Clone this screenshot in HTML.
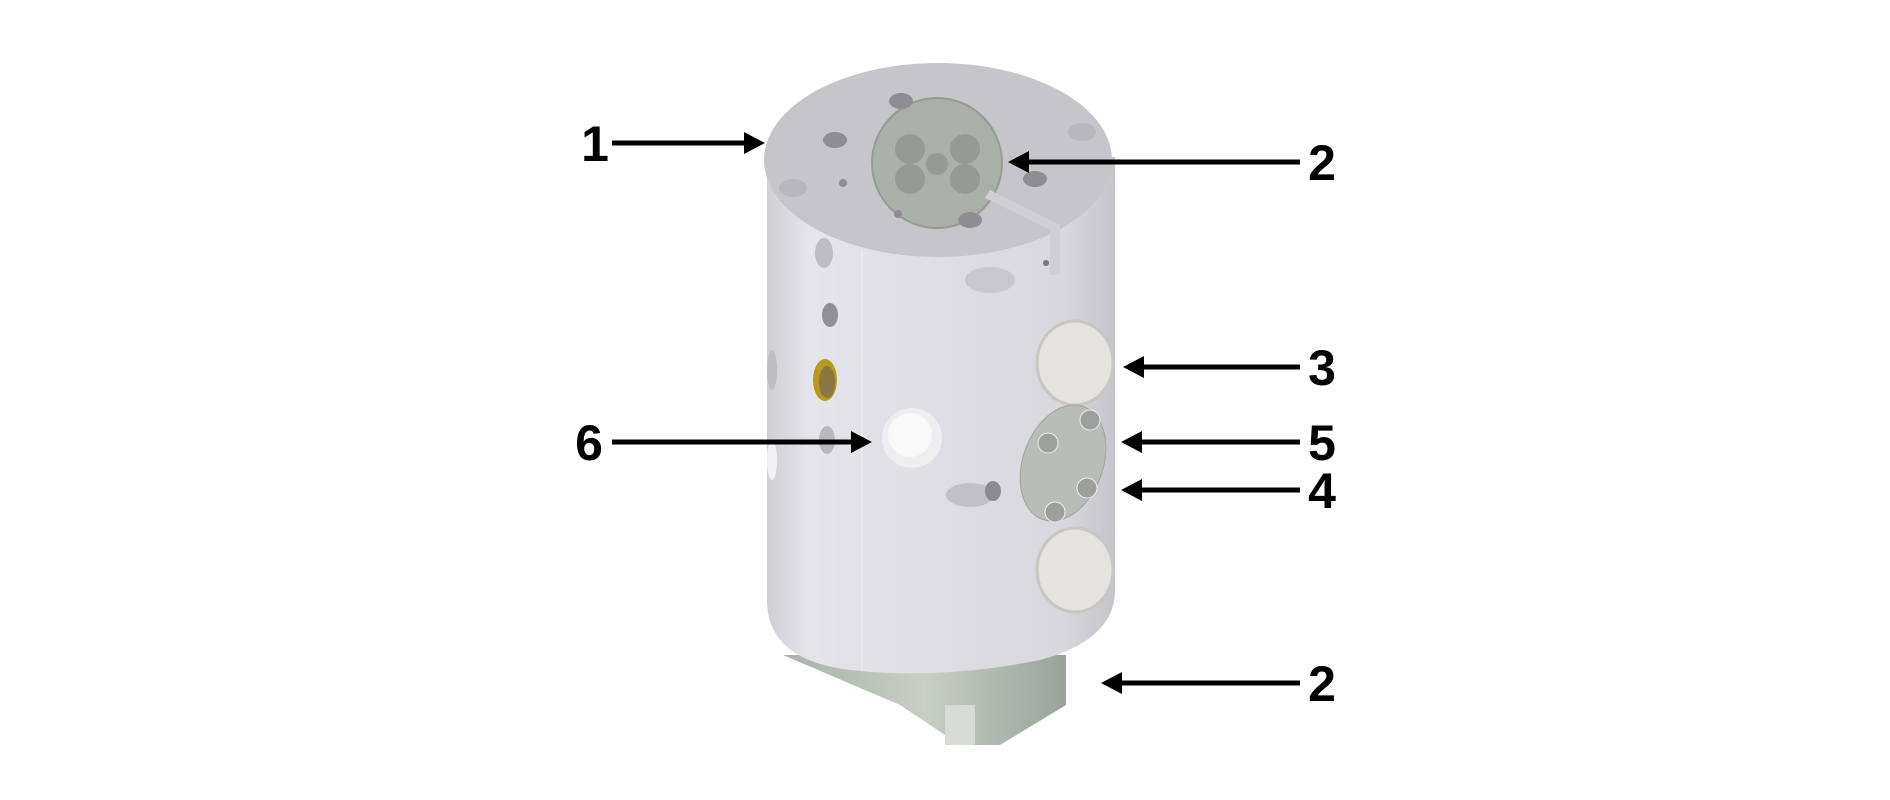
<!DOCTYPE html>
<html><head><meta charset="utf-8"><style>
html,body{margin:0;padding:0;background:#fff;}
svg{display:block;}
text{font-family:"Liberation Sans",Arial,sans-serif;font-weight:bold;font-size:50px;fill:#000;}
</style></head><body>
<svg width="1890" height="800" viewBox="0 0 1890 800" xmlns="http://www.w3.org/2000/svg">
<defs>
<linearGradient id="body" x1="0" x2="1" y1="0" y2="0">
<stop offset="0" stop-color="#cfcfd4"/><stop offset="0.12" stop-color="#e4e4ea"/>
<stop offset="0.5" stop-color="#dedde4"/><stop offset="0.85" stop-color="#d8d8de"/><stop offset="1" stop-color="#c4c4ca"/>
</linearGradient>
<linearGradient id="nut" x1="0" x2="1"><stop offset="0" stop-color="#a9b2a8"/><stop offset="0.5" stop-color="#c7cfc5"/><stop offset="1" stop-color="#9aa39a"/></linearGradient>
</defs>
<!-- hex nut -->
<path d="M783,655 L1066,655 L1066,705 L1000,745 L960,745 L900,705 Z" fill="url(#nut)"/>
<rect x="945" y="705" width="30" height="40" fill="#d6ddd4"/>
<!-- body -->
<path d="M767,157 L767,600 Q767,660 850,670 Q941,680 1040,660 Q1115,640 1115,590 L1115,157 Z" fill="url(#body)"/>
<line x1="862" y1="250" x2="862" y2="670" stroke="#e9e9ee" stroke-width="2"/>
<!-- top face -->
<ellipse cx="938" cy="160" rx="174" ry="97" fill="#c6c6ca"/>
<circle cx="937" cy="163" r="65" fill="#a9b0a7" stroke="#959c94" stroke-width="2"/>
<circle cx="910" cy="149" r="15" fill="#949b93"/><circle cx="965" cy="149" r="15" fill="#949b93"/>
<circle cx="910" cy="179" r="15" fill="#949b93"/><circle cx="965" cy="179" r="15" fill="#949b93"/>
<circle cx="937" cy="164" r="11" fill="#949b93"/>
<ellipse cx="901" cy="101" rx="12" ry="8" fill="#8e8e92"/><ellipse cx="835" cy="140" rx="12" ry="8" fill="#8e8e92"/>
<ellipse cx="1035" cy="179" rx="12" ry="8" fill="#8e8e92"/><ellipse cx="970" cy="220" rx="12" ry="8" fill="#8e8e92"/>
<ellipse cx="793" cy="188" rx="14" ry="9" fill="#b8b8bc"/><ellipse cx="1082" cy="132" rx="14" ry="9" fill="#b8b8bc"/>
<circle cx="843" cy="183" r="4" fill="#8e8e92"/><circle cx="898" cy="214" r="4" fill="#8e8e92"/>
<path d="M990,190 L1060,225 L1060,275 L1050,275 L1050,230 L985,198 Z" fill="#d0d0d4"/>
<!-- side holes -->
<ellipse cx="824" cy="253" rx="9" ry="15" fill="#bdbdc2"/><ellipse cx="990" cy="280" rx="25" ry="13" fill="#c8c8cd"/>
<ellipse cx="830" cy="315" rx="8" ry="12" fill="#8f8f94"/>
<circle cx="1046" cy="263" r="3" fill="#777"/>
<ellipse cx="825" cy="380" rx="12" ry="21" fill="#b59a1c"/><ellipse cx="827" cy="382" rx="8" ry="16" fill="#8a7640"/>
<ellipse cx="827" cy="440" rx="8" ry="14" fill="#b8b8bd"/>
<ellipse cx="970" cy="495" rx="24" ry="12" fill="#c0c0c5"/><ellipse cx="993" cy="491" rx="8" ry="10" fill="#8c8c90"/>
<ellipse cx="772" cy="370" rx="5" ry="20" fill="#bdbdc2"/><ellipse cx="772" cy="460" rx="5" ry="20" fill="#f2f2f4"/>
<!-- white disk 6 -->
<circle cx="912" cy="438" r="30" fill="#eeeef0"/><circle cx="910" cy="435" r="22" fill="#f9f9fa"/>
<!-- plugs -->
<ellipse cx="1075" cy="363" rx="38" ry="42" fill="#e4e3dd" stroke="#c8c7c1" stroke-width="3"/>
<ellipse cx="1075" cy="570" rx="38" ry="42" fill="#e4e3dd" stroke="#c8c7c1" stroke-width="3"/>
<!-- plate -->
<ellipse cx="1063" cy="463" rx="40" ry="60" transform="rotate(20 1063 463)" fill="#b9bdb8" stroke="#a0a49f"/>
<circle cx="1090" cy="420" r="10" fill="#9da09d" stroke="#eee"/><circle cx="1048" cy="443" r="10" fill="#9da09d" stroke="#eee"/>
<circle cx="1087" cy="488" r="10" fill="#9da09d" stroke="#eee"/><circle cx="1055" cy="512" r="10" fill="#9da09d" stroke="#eee"/>
<!-- arrows -->
<g stroke="#000" stroke-width="5">
<line x1="612" y1="143" x2="748" y2="143"/>
<line x1="1300" y1="162" x2="1025" y2="162"/>
<line x1="1300" y1="367" x2="1140" y2="367"/>
<line x1="1300" y1="442" x2="1138" y2="442"/>
<line x1="1300" y1="490" x2="1138" y2="490"/>
<line x1="1300" y1="683" x2="1118" y2="683"/>
<line x1="612" y1="442" x2="855" y2="442"/>
</g>
<g fill="#000">
<polygon points="765,143 744,132 744,154"/>
<polygon points="1008,162 1029,151 1029,173"/>
<polygon points="1123,367 1144,356 1144,378"/>
<polygon points="1121,442 1142,431 1142,453"/>
<polygon points="1121,490 1142,479 1142,501"/>
<polygon points="1101,683 1122,672 1122,694"/>
<polygon points="872,442 851,431 851,453"/>
</g>
<g text-anchor="middle">
<text x="595" y="161">1</text>
<text x="1322" y="180">2</text>
<text x="1322" y="385">3</text>
<text x="1322" y="460">5</text>
<text x="1322" y="508">4</text>
<text x="1322" y="701">2</text>
<text x="589" y="460">6</text>
</g>
</svg>
</body></html>
